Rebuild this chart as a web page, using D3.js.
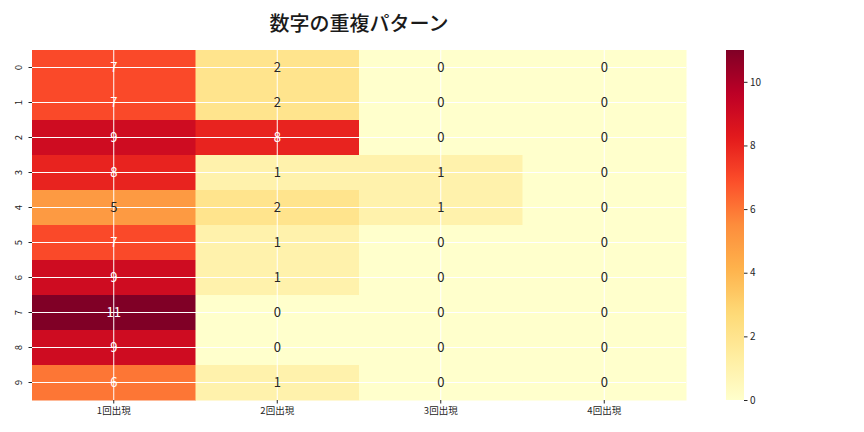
<!DOCTYPE html>
<html>
<head>
<meta charset="utf-8">
<script src="https://cdn.jsdelivr.net/npm/d3@7"></script>
<style>
  body { margin: 0; background: #fff; }
  text { font-family: "Noto Sans CJK JP", "DejaVu Sans", sans-serif; }
</style>
</head>
<body>
<div id="chart"></div>
<script>
// heatmap data: rows are digits 0-9, columns are occurrence counts
const rowLabels = ['0', '1', '2', '3', '4', '5', '6', '7', '8', '9'];
const colLabels = ['1回出現', '2回出現', '3回出現', '4回出現'];
const values = [
  [7, 2, 0, 0],
  [7, 2, 0, 0],
  [9, 8, 0, 0],
  [8, 1, 1, 0],
  [5, 2, 1, 0],
  [7, 1, 0, 0],
  [9, 1, 0, 0],
  [11, 0, 0, 0],
  [9, 0, 0, 0],
  [6, 1, 0, 0]
];
const cbTicks = [0, 2, 4, 6, 8, 10];
const title = '数字の重複パターン';

const W = 864, H = 432;
const m = { left: 32, top: 50, right: 686, bottom: 400 };
const vmax = d3.max(values.flat());

const svg = d3.select('#chart').append('svg').attr('width', W).attr('height', H);

// matplotlib-like YlOrRd (linear between brewer stops)
const stops = ['#ffffcc', '#ffeda0', '#fed976', '#feb24c', '#fd8d3c', '#fc4e2a', '#e31a1c', '#bd0026', '#800026'];
const color = d3.scaleLinear()
  .domain(stops.map((_, i) => i * vmax / (stops.length - 1)))
  .range(stops)
  .interpolate(d3.interpolateRgb);

const x = d3.scaleBand().domain(colLabels).range([m.left, m.right]);
const y = d3.scaleBand().domain(rowLabels).range([m.top, m.bottom]);

const cells = [];
values.forEach((row, i) => row.forEach((v, j) => cells.push({ r: rowLabels[i], c: colLabels[j], v })));

svg.append('g').selectAll('rect').data(cells).enter().append('rect')
  .attr('x', d => x(d.c)).attr('y', d => y(d.r))
  .attr('width', x.bandwidth() + 0.5).attr('height', y.bandwidth() + 0.5)
  .attr('fill', d => color(d.v));

// white grid lines at tick centres
const grid = svg.append('g').attr('stroke', '#fff').attr('stroke-width', 1);
rowLabels.forEach(r => grid.append('line')
  .attr('x1', m.left).attr('x2', m.right)
  .attr('y1', y(r) + y.bandwidth() / 2).attr('y2', y(r) + y.bandwidth() / 2));
colLabels.forEach(c => grid.append('line')
  .attr('y1', m.top).attr('y2', m.bottom)
  .attr('x1', x(c) + x.bandwidth() / 2).attr('x2', x(c) + x.bandwidth() / 2));

// annotations, white on dark cells
function lum(c) {
  const rgb = d3.rgb(c);
  const f = v => { v /= 255; return v <= 0.03928 ? v / 12.92 : Math.pow((v + 0.055) / 1.055, 2.4); };
  return 0.2126 * f(rgb.r) + 0.7152 * f(rgb.g) + 0.0722 * f(rgb.b);
}
svg.append('g').selectAll('text').data(cells).enter().append('text')
  .attr('x', d => x(d.c) + x.bandwidth() / 2)
  .attr('y', d => y(d.r) + y.bandwidth() / 2 - 1)
  .attr('text-anchor', 'middle').attr('dominant-baseline', 'central')
  .attr('font-family', 'DejaVu Sans').attr('font-size', 13)
  .attr('fill', d => lum(color(d.v)) > 0.408 ? '#262626' : '#fff')
  .text(d => d.v);

// axes
const xAxis = svg.append('g').attr('transform', `translate(0,${m.bottom})`)
  .call(d3.axisBottom(x).tickSize(3.5).tickPadding(3.5));
xAxis.select('.domain').remove();
xAxis.selectAll('text').attr('font-size', 9.5).attr('fill', '#262626')
  .attr('font-family', '"Noto Sans CJK JP", sans-serif');
xAxis.selectAll('line').attr('stroke', '#262626');

const yAxis = svg.append('g').attr('transform', `translate(${m.left},0)`)
  .call(d3.axisLeft(y).tickSize(3.5).tickPadding(3));
yAxis.select('.domain').remove();
yAxis.selectAll('line').attr('stroke', '#262626');
yAxis.selectAll('text')
  .attr('font-size', 9.5).attr('fill', '#262626').attr('font-family', 'DejaVu Sans')
  .attr('x', 0).attr('dy', 0).attr('text-anchor', 'middle').attr('dominant-baseline', 'central')
  .attr('transform', 'translate(-14,0) rotate(-90)');

// colorbar
const cb = { x: 726, w: 18 };
const cy = d3.scaleLinear().domain([0, vmax]).range([m.bottom, m.top]);
const defs = svg.append('defs');
const grad = defs.append('linearGradient').attr('id', 'cbgrad')
  .attr('x1', 0).attr('y1', 1).attr('x2', 0).attr('y2', 0);
d3.range(0, 1.0001, 0.02).forEach(t => grad.append('stop')
  .attr('offset', t).attr('stop-color', color(t * vmax)));
svg.append('rect').attr('x', cb.x).attr('y', m.top)
  .attr('width', cb.w).attr('height', m.bottom - m.top).attr('fill', 'url(#cbgrad)');
const cbAxis = svg.append('g').attr('transform', `translate(${cb.x + cb.w},0)`)
  .call(d3.axisRight(cy).tickValues(cbTicks).tickSize(3.5).tickPadding(2.5));
cbAxis.select('.domain').remove();
cbAxis.selectAll('line').attr('stroke', '#262626');
cbAxis.selectAll('text').attr('font-size', 10).attr('fill', '#262626').attr('font-family', 'DejaVu Sans');

// title
svg.append('text').attr('x', (m.left + m.right) / 2).attr('y', 22)
  .attr('text-anchor', 'middle').attr('dominant-baseline', 'central')
  .attr('font-size', 20).attr('font-weight', 500).attr('fill', '#1a1a1a')
  .text(title);
</script>
</body>
</html>
